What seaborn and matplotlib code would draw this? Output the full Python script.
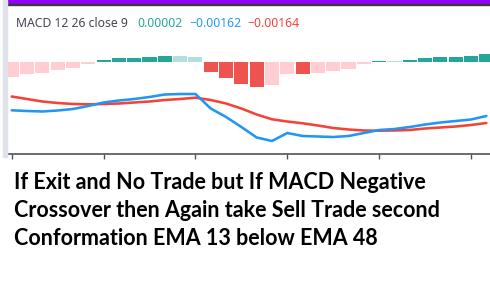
import numpy as np
import pandas as pd
import matplotlib
matplotlib.use("Agg")
import matplotlib.pyplot as plt
from matplotlib.patches import Rectangle
import seaborn as sns

# ---- data (units of price) ----
bar_index = list(range(32))
histogram = [-0.0015, -0.0012, -0.0011, -0.0008, -0.0006, -0.0002, 0.00015, 0.00035,
             0.00037, 0.00045, 0.00055, 0.00054, 0.00045, -0.0010, -0.0016, -0.0022,
             -0.0025, -0.0023, -0.0012, -0.00125, -0.0011, -0.0009, -0.0007, -0.0002,
             0.00010, 0.00009, 0.00020, 0.00035, 0.00045, 0.00046, 0.00055, 0.00075]
macd_line = [-0.00488, -0.00495, -0.00500, -0.00490, -0.00475, -0.00445, -0.00410, -0.00390,
             -0.00375, -0.00355, -0.00330, -0.00325, -0.00325, -0.00470, -0.00555, -0.00655,
             -0.00760, -0.00795, -0.00715, -0.00745, -0.00750, -0.00755, -0.00745, -0.00715,
             -0.00685, -0.00675, -0.00655, -0.00630, -0.00610, -0.00595, -0.00580, -0.00545]
signal_line = [-0.00350, -0.00375, -0.00400, -0.00415, -0.00425, -0.00428, -0.00425, -0.00420,
               -0.00410, -0.00400, -0.00385, -0.00375, -0.00362, -0.00385, -0.00420, -0.00470,
               -0.00530, -0.00578, -0.00600, -0.00618, -0.00640, -0.00665, -0.00680, -0.00690,
               -0.00692, -0.00690, -0.00685, -0.00670, -0.00660, -0.00650, -0.00635, -0.00615]
tick_bars = [0, 6, 12, 18, 24, 30]
legend_title = "MACD 12 26 close 9"
legend_values = ["0.00002", "\u22120.00162", "\u22120.00164"]
caption_lines = ["If Exit and No Trade but If MACD Negative",
                 "Crossover then Again take Sell Trade second",
                 "Conformation EMA 13 below EMA 48"]

# histogram colouring (TradingView rule)
C_GROW_ABOVE, C_FALL_ABOVE = "#26a69a", "#b2dfdb"
C_GROW_BELOW, C_FALL_BELOW = "#ffcdd2", "#ef5350"
colors = []
for i, h in enumerate(histogram):
    prev = histogram[i - 1] if i > 0 else h - 1
    if h >= 0:
        colors.append(C_GROW_ABOVE if h > prev else C_FALL_ABOVE)
    else:
        colors.append(C_GROW_BELOW if h > prev else C_FALL_BELOW)

df = pd.DataFrame({"i": bar_index, "hist": histogram,
                   "macd": macd_line, "signal": signal_line})

sns.set_theme(style="white")
W, H = 490, 284
fig = plt.figure(figsize=(W / 100, H / 100), dpi=100)
fig.patch.set_facecolor("white")

def fx(px):
    return px / W

def fy(py):
    return 1 - py / H

ax = fig.add_axes([fx(7), fy(154), fx(490) - fx(7), fy(5) - fy(154)])
ax.set_facecolor("white")

sns.barplot(data=df, x="i", y="hist", color=C_GROW_ABOVE, width=0.92,
            ax=ax, saturation=1, errorbar=None, linewidth=0)
for p, c in zip(ax.patches, colors):
    p.set_facecolor(c)
    p.set_edgecolor("none")
sns.lineplot(x=bar_index, y=signal_line, color="#f44336", linewidth=1.85, ax=ax)
sns.lineplot(x=bar_index, y=macd_line, color="#2196f3", linewidth=1.85, ax=ax)

ax.set_xlim(-0.307, 31.24)
ax.set_ylim(-0.00925, 0.00565)
for s in ["top", "right", "left"]:
    ax.spines[s].set_visible(False)
ax.spines["bottom"].set_color("#50535e")
ax.spines["bottom"].set_linewidth(1.2)
ax.set_xticks(tick_bars)
ax.set_xticklabels([])
ax.set_yticks([])
ax.tick_params(axis="x", length=3.5, width=1, color="#50535e", direction="out", bottom=True)
ax.set_xlabel("")
ax.set_ylabel("")

# decorations: top violet band, dark rule, left grey strip
fig.patches.append(Rectangle((fx(7), fy(4)), 1 - fx(7), fy(0) - fy(4),
                             transform=fig.transFigure, color="#9400f5", zorder=5))
fig.patches.append(Rectangle((fx(7), fy(5)), 1 - fx(7), fy(4) - fy(5),
                             transform=fig.transFigure, color="#3a3a3a", zorder=5))
fig.patches.append(Rectangle((fx(3), fy(157)), fx(4), fy(0) - fy(157),
                             transform=fig.transFigure, color="#dfe2ea", zorder=5))

# legend text
fig.text(fx(16), fy(26.7), legend_title, color="#434651", fontsize=8.8,
         family="Noto Sans", va="baseline")
leg_x = [137, 189, 247]
leg_c = ["#26a69a", "#2196f3", "#f44336"]
for x, t, c in zip(leg_x, legend_values, leg_c):
    fig.text(fx(x), fy(26.7), t, color=c, fontsize=8.8, family="Noto Sans", va="baseline")

# caption
base = [189, 217, 245]
for y, t in zip(base, caption_lines):
    fig.text(fx(14), fy(y), t, color="black", fontsize=15.5, family="Lato",
             fontweight="bold", va="baseline")

fig.savefig("out.png", dpi=100)
